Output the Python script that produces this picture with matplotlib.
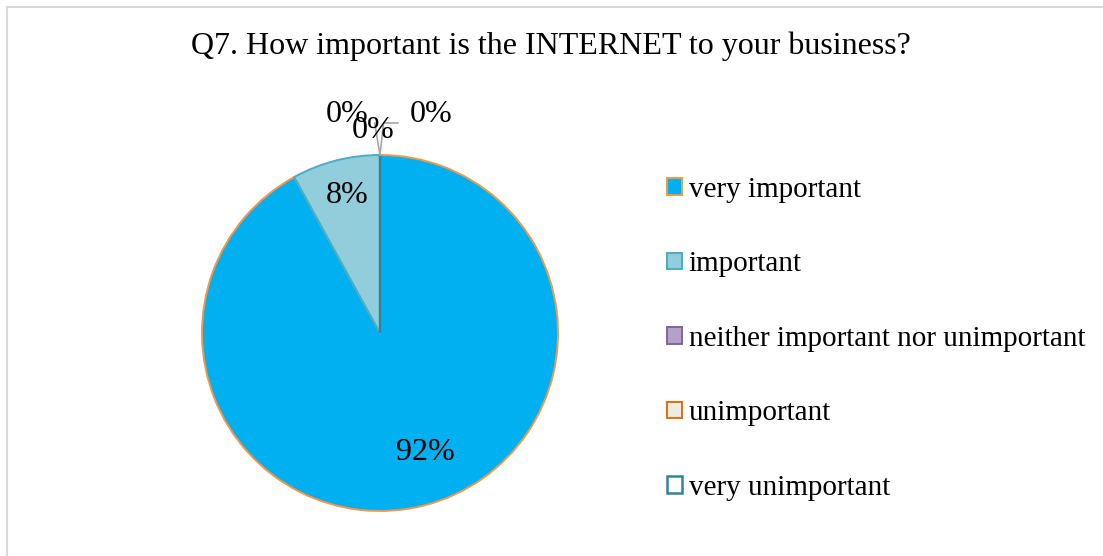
import matplotlib.pyplot as plt
from matplotlib.lines import Line2D

# Survey responses, Q7
categories = ['very important', 'important', 'neither important nor unimportant',
              'unimportant', 'very unimportant']
shares = [92, 8, 0, 0, 0]
pct_labels = ['92%', '8%', '0%', '0%', '0%']

face_colors = ['#00B0F0', '#92CDDC', '#B3A2C7', '#EEECE1', '#FFFFFF']
edge_colors = ['#F79646', '#4BACC6', '#8064A2', '#E46C0A', '#31849B']

plt.rcParams['font.family'] = ['Liberation Serif', 'DejaVu Serif']

fig = plt.figure(figsize=(11.03, 5.56), dpi=100)

# light frame around the chart area
fig.add_artist(Line2D([6.5 / 1103, 6.5 / 1103], [0, 1 - 6.5 / 556],
                      transform=fig.transFigure, color='#D9D9D9', lw=1.5))
fig.add_artist(Line2D([6.5 / 1103, 1], [1 - 6.5 / 556, 1 - 6.5 / 556],
                      transform=fig.transFigure, color='#D9D9D9', lw=1.5))

ax = fig.add_axes([202 / 1103, 45 / 556, 356 / 1103, 356 / 556])
wedges, _ = ax.pie(shares, colors=face_colors, startangle=90, counterclock=False,
                   radius=1.0, wedgeprops=dict(linewidth=1.4))
for w, ec in zip(wedges, edge_colors):
    w.set_edgecolor(ec)
wedges[-1].set_linewidth(1.8)
ax.set_xlim(-1, 1)
ax.set_ylim(-1, 1)
ax.set_aspect('equal')
ax.axis('off')

# percentage labels
label_pos = [(0.253, -0.67), (-0.185, 0.775), (-0.185, 1.225), (-0.04, 1.14), (0.287, 1.225)]
for txt, (x, y) in zip(pct_labels, label_pos):
    ax.text(x, y, txt, ha='center', va='center', fontsize=23, clip_on=False)

# leader lines for the zero slices
ax.plot([0, -0.03], [1.0, 1.18], color='#A6A6A6', lw=1.2, clip_on=False)
ax.plot([0, 0.02, 0.1], [1.0, 1.18, 1.18], color='#A6A6A6', lw=1.2, clip_on=False)

fig.text(551 / 1103, 1 - 46 / 556, 'Q7. How important is the INTERNET to your business?',
         ha='center', va='center', fontsize=23)

fig.legend(wedges, categories, loc='upper left', bbox_to_anchor=(667 / 1103, 1 - 177 / 556),
           frameon=False, fontsize=21, handlelength=0.5, handleheight=0.5,
           handletextpad=0.25, labelspacing=1.66, borderpad=0, borderaxespad=0)

fig.savefig('out.png', dpi=100, facecolor='white')
